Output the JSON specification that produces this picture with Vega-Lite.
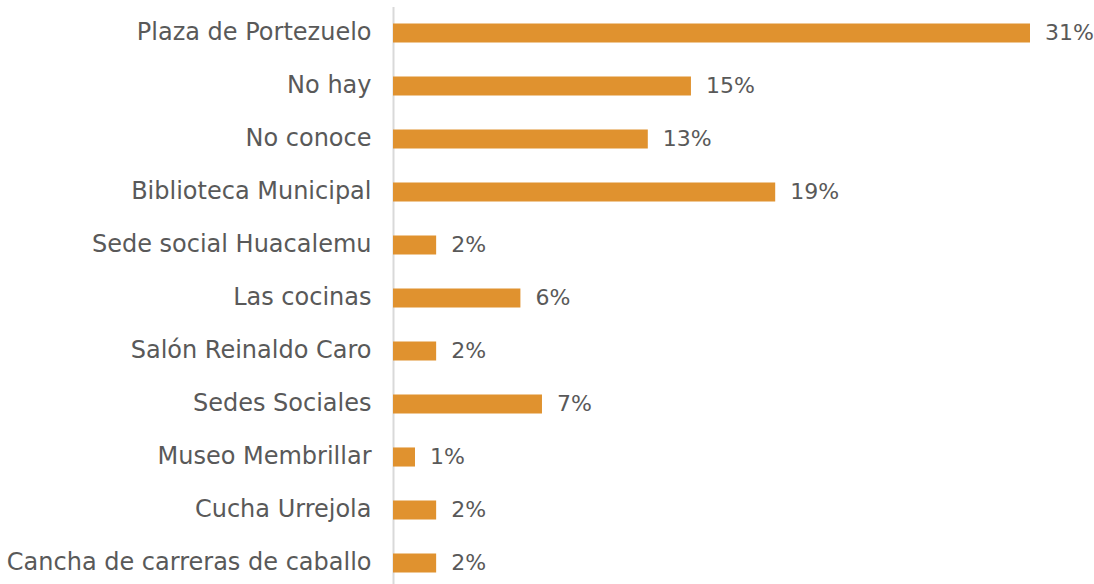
{
  "$schema": "https://vega.github.io/schema/vega-lite/v6.json",
  "width": 637,
  "height": 583,
  "autosize": {"type": "none"},
  "padding": {"left": 393, "top": 6.5, "right": 64, "bottom": 0},
  "background": "white",
  "data": {
    "values": [
      {"lugar": "Plaza de Portezuelo", "valor": 31.0, "etiqueta": "31%"},
      {"lugar": "No hay", "valor": 14.5, "etiqueta": "15%"},
      {"lugar": "No conoce\u00a0", "valor": 12.4, "etiqueta": "13%"},
      {"lugar": "Biblioteca Municipal", "valor": 18.6, "etiqueta": "19%"},
      {"lugar": "Sede social Huacalemu", "valor": 2.1, "etiqueta": "2%"},
      {"lugar": "Las cocinas", "valor": 6.2, "etiqueta": "6%"},
      {"lugar": "Salón Reinaldo Caro", "valor": 2.1, "etiqueta": "2%"},
      {"lugar": "Sedes Sociales", "valor": 7.25, "etiqueta": "7%"},
      {"lugar": "Museo Membrillar", "valor": 1.07, "etiqueta": "1%"},
      {"lugar": "Cucha Urrejola", "valor": 2.1, "etiqueta": "2%"},
      {"lugar": "Cancha de carreras de caballo", "valor": 2.1, "etiqueta": "2%"}
    ]
  },
  "encoding": {
    "y": {
      "field": "lugar",
      "type": "nominal",
      "sort": null,
      "scale": {"paddingInner": 0.64, "paddingOuter": 0.32},
      "axis": {
        "title": null,
        "ticks": false,
        "domain": true,
        "domainColor": "#d9d9d9",
        "domainWidth": 2,
        "labelFont": "DejaVu Sans",
        "labelFontSize": 24,
        "labelColor": "#595959",
        "labelPadding": 22,
        "labelLimit": 450,
        "grid": false
      }
    },
    "x": {
      "field": "valor",
      "type": "quantitative",
      "scale": {"domain": [0, 31], "nice": false},
      "axis": null
    }
  },
  "layer": [
    {"mark": {"type": "bar", "color": "#E0922F"}},
    {
      "mark": {"type": "text", "align": "left", "baseline": "middle", "dx": 15, "font": "DejaVu Sans", "fontSize": 22, "color": "#595959"},
      "encoding": {"text": {"field": "etiqueta"}}
    }
  ],
  "config": {"view": {"stroke": null}}
}
